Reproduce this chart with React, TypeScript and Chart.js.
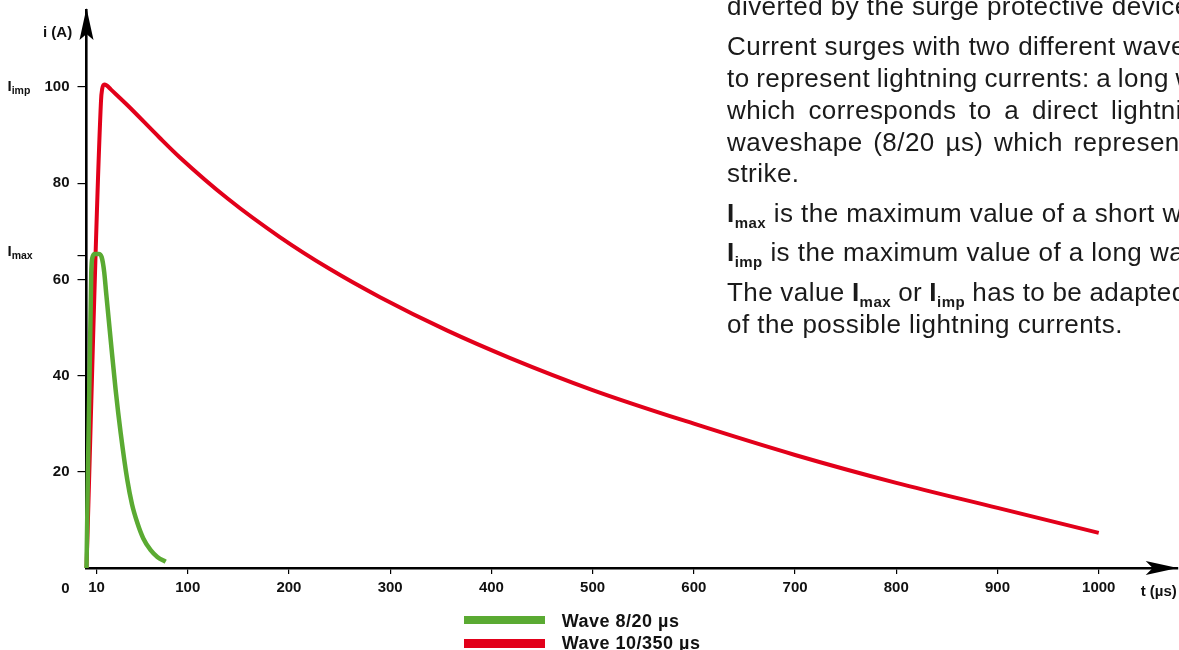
import React, { useEffect, useRef } from "react";
import { Chart, registerables } from "chart.js";

Chart.register(...registerables);

const FONT = '"Liberation Sans", Arial, Helvetica, sans-serif';

// Wave 8/20 µs (time in µs, current in A)
const shortWaveT = [0, 4.7, 5.8, 8, 12, 15, 17.5, 19.5, 23.9, 28.8, 33.8, 40.3, 45, 50.2, 56, 63.4, 70, 78.2];
const shortWaveI = [0, 61.3, 64.5, 65.3, 65.3, 64.6, 61.5, 57, 47.4, 37, 28, 18.3, 13.2, 9.4, 6.2, 3.7, 2.3, 1.3];

// Wave 10/350 µs
const longWaveT = [0, 14.3, 15.5, 17.5, 20, 24, 40, 72, 92, 140, 191, 240, 290, 356, 418, 500, 600, 700, 800, 900, 1000];
const longWaveI = [0, 97, 99.6, 100.5, 100.3, 99.5, 96.3, 89.5, 85.4, 76.7, 68.8, 62.2, 56.3, 49.4, 43.7, 37, 30, 23.5, 17.7, 12.5, 7.3];

const seriesNames = ["Wave 8/20 µs", "Wave 10/350 µs"];
const seriesColors = ["#5AAA32", "#E2001A"];

const xTickValues = [10, 100, 200, 300, 400, 500, 600, 700, 800, 900, 1000];
const xTickLabels = ["10", "100", "200", "300", "400", "500", "600", "700", "800", "900", "1000"];
const yTickValues = [20, 40, 60, 65, 80, 100];
const yTickLabels = ["20", "40", "60", "", "80", "100"];

const xMax = 1078;
const yMax = 116;

const textLines = [
  { text: "diverted by the surge protective device.", base: 15, ws: 0 },
  { text: "Current surges with two different waveshapes are used", base: 55, ws: 0 },
  { text: "to represent lightning currents: a long waveshape (10/350 µs)", base: 87, ws: -1 },
  { text: "which corresponds to a direct lightning strike, and a short", base: 119, ws: 5 },
  { text: "waveshape (8/20 µs) which represents an indirect lightning", base: 150.7, ws: 3 },
  { text: "strike.", base: 182, ws: 0 },
];

const arrowPlugin = {
  id: "axisArrows",
  afterDraw(chart: any) {
    const { ctx, chartArea: a } = chart;
    ctx.save();
    ctx.fillStyle = "#000";
    const x0 = a.left;
    ctx.beginPath();
    ctx.moveTo(x0, a.top - 2);
    ctx.lineTo(x0 - 7, a.top + 30);
    ctx.lineTo(x0, a.top + 24);
    ctx.lineTo(x0 + 7, a.top + 30);
    ctx.closePath();
    ctx.fill();
    const y0 = a.bottom;
    const tip = a.right;
    ctx.beginPath();
    ctx.moveTo(tip, y0);
    ctx.lineTo(tip - 32, y0 - 7);
    ctx.lineTo(tip - 25, y0);
    ctx.lineTo(tip - 32, y0 + 7);
    ctx.closePath();
    ctx.fill();
    ctx.restore();
  },
};

const Sub = ({ main, sub, size, subSize }: { main: string; sub: string; size: number; subSize: number }) => (
  <span style={{ fontWeight: "bold" }}>
    <span style={{ fontSize: size }}>{main}</span>
    <span style={{ fontSize: subSize, verticalAlign: -Math.round(size * 0.22) }}>{sub}</span>
  </span>
);

export default function App() {
  const ref = useRef<HTMLCanvasElement>(null);

  useEffect(() => {
    const tickFont = { family: FONT, size: 15, weight: "bold" as const };
    const chart = new Chart(ref.current as HTMLCanvasElement, {
      type: "line",
      data: {
        datasets: [
          {
            label: seriesNames[0],
            data: shortWaveT.map((t, i) => ({ x: t, y: shortWaveI[i] })),
            borderColor: seriesColors[0],
            backgroundColor: seriesColors[0],
            borderWidth: 4.5,
            pointRadius: 0,
            cubicInterpolationMode: "monotone",
            fill: false,
            clip: false as any,
            order: 0,
          },
          {
            label: seriesNames[1],
            data: longWaveT.map((t, i) => ({ x: t, y: longWaveI[i] })),
            borderColor: seriesColors[1],
            backgroundColor: seriesColors[1],
            borderWidth: 4,
            pointRadius: 0,
            cubicInterpolationMode: "monotone",
            fill: false,
            clip: false as any,
            order: 1,
          },
        ],
      },
      options: {
        responsive: false,
        animation: false,
        devicePixelRatio: 1,
        layout: { padding: { top: 10, right: 1.3, left: 0, bottom: 0 } },
        plugins: { legend: { display: false }, tooltip: { enabled: false } },
        scales: {
          x: {
            type: "linear",
            min: 0,
            max: xMax,
            afterBuildTicks: (s: any) => {
              s.ticks = xTickValues.map((v) => ({ value: v }));
            },
            ticks: {
              autoSkip: false,
              maxRotation: 0,
              padding: 5,
              color: "#111",
              font: tickFont,
              callback: (v: any) => {
                const i = xTickValues.indexOf(Number(v));
                return i >= 0 ? xTickLabels[i] : "";
              },
            },
            grid: { drawOnChartArea: false, drawTicks: true, tickLength: 6, tickColor: "#000", tickWidth: 1.2, lineWidth: 1.2 },
            border: { display: true, color: "#000", width: 2.6 },
            afterFit: (s: any) => {
              s.height = 82;
              s.paddingLeft = 0;
              s.paddingRight = 0;
            },
          },
          y: {
            type: "linear",
            min: 0,
            max: yMax,
            afterBuildTicks: (s: any) => {
              s.ticks = yTickValues.map((v) => ({ value: v }));
            },
            ticks: {
              autoSkip: false,
              padding: 8,
              color: "#111",
              font: tickFont,
              callback: (v: any) => {
                const i = yTickValues.indexOf(Number(v));
                return i >= 0 ? yTickLabels[i] : "";
              },
            },
            grid: { drawOnChartArea: false, drawTicks: true, tickLength: 9, tickColor: "#000", tickWidth: 1.2, lineWidth: 1.2 },
            border: { display: true, color: "#000", width: 2.6 },
            afterFit: (s: any) => {
              s.width = 86.5;
              s.paddingTop = 0;
              s.paddingBottom = 0;
            },
          },
        },
      },
      plugins: [arrowPlugin],
    });
    return () => chart.destroy();
  }, []);

  const textSize = 26;
  const lineTop = (base: number) => base - textSize * 0.8465;

  return (
    <div style={{ position: "absolute", left: 0, top: 0, width: 1179, height: 650, overflow: "hidden", background: "#fff", fontFamily: FONT, color: "#111" }}>
      <canvas ref={ref} width={1179} height={650} style={{ position: "absolute", left: 0, top: 0, width: 1179, height: 650 }} />

      {/* axis titles */}
      <div style={{ position: "absolute", left: 43, top: 24.3, fontSize: 15, lineHeight: "15px", fontWeight: "bold", whiteSpace: "nowrap" }}>i (A)</div>
      <div style={{ position: "absolute", left: 1140.7, top: 583.3, fontSize: 15, lineHeight: "15px", fontWeight: "bold", whiteSpace: "nowrap" }}>t (µs)</div>
      <div style={{ position: "absolute", left: 61.3, top: 580.3, fontSize: 15, lineHeight: "15px", fontWeight: "bold" }}>0</div>
      <div style={{ position: "absolute", left: 7.5, top: 78.3, lineHeight: "15px", whiteSpace: "nowrap" }}>
        <Sub main="I" sub="imp" size={15} subSize={10.5} />
      </div>
      <div style={{ position: "absolute", left: 7.5, top: 243, lineHeight: "15px", whiteSpace: "nowrap" }}>
        <Sub main="I" sub="max" size={15} subSize={10.5} />
      </div>

      {/* legend */}
      {seriesNames.map((name, i) => (
        <React.Fragment key={name}>
          <div style={{ position: "absolute", left: 464, top: i === 0 ? 615.7 : 639.3, width: 81, height: 8.5, background: seriesColors[i] }} />
          <div style={{ position: "absolute", left: 561.7, top: i === 0 ? 611.8 : 633.8, fontSize: 18, lineHeight: "18px", fontWeight: "bold", letterSpacing: 0.5, whiteSpace: "nowrap" }}>{name}</div>
        </React.Fragment>
      ))}

      {/* explanatory text */}
      <div style={{ position: "absolute", left: 727, top: 0, width: 452, height: 350, overflow: "hidden", fontSize: textSize, lineHeight: `${textSize}px`, letterSpacing: 0.45, color: "#1a1a1a" }}>
        {textLines.map((l) => (
          <div key={l.text} style={{ position: "absolute", left: 0, top: lineTop(l.base), whiteSpace: "nowrap", wordSpacing: l.ws }}>{l.text}</div>
        ))}
        <div style={{ position: "absolute", left: 0, top: lineTop(221.7), whiteSpace: "nowrap" }}>
          <Sub main="I" sub="max" size={textSize} subSize={15} /> is the maximum value of a short waveshape current.
        </div>
        <div style={{ position: "absolute", left: 0, top: lineTop(261.4), whiteSpace: "nowrap" }}>
          <Sub main="I" sub="imp" size={textSize} subSize={15} /> is the maximum value of a long waveshape current.
        </div>
        <div style={{ position: "absolute", left: 0, top: lineTop(301), whiteSpace: "nowrap", wordSpacing: -0.5 }}>
          The value <Sub main="I" sub="max" size={textSize} subSize={15} /> or <Sub main="I" sub="imp" size={textSize} subSize={15} /> has to be adapted to the intensity
        </div>
        <div style={{ position: "absolute", left: 0, top: lineTop(332.8), whiteSpace: "nowrap" }}>of the possible lightning currents.</div>
      </div>
    </div>
  );
}
